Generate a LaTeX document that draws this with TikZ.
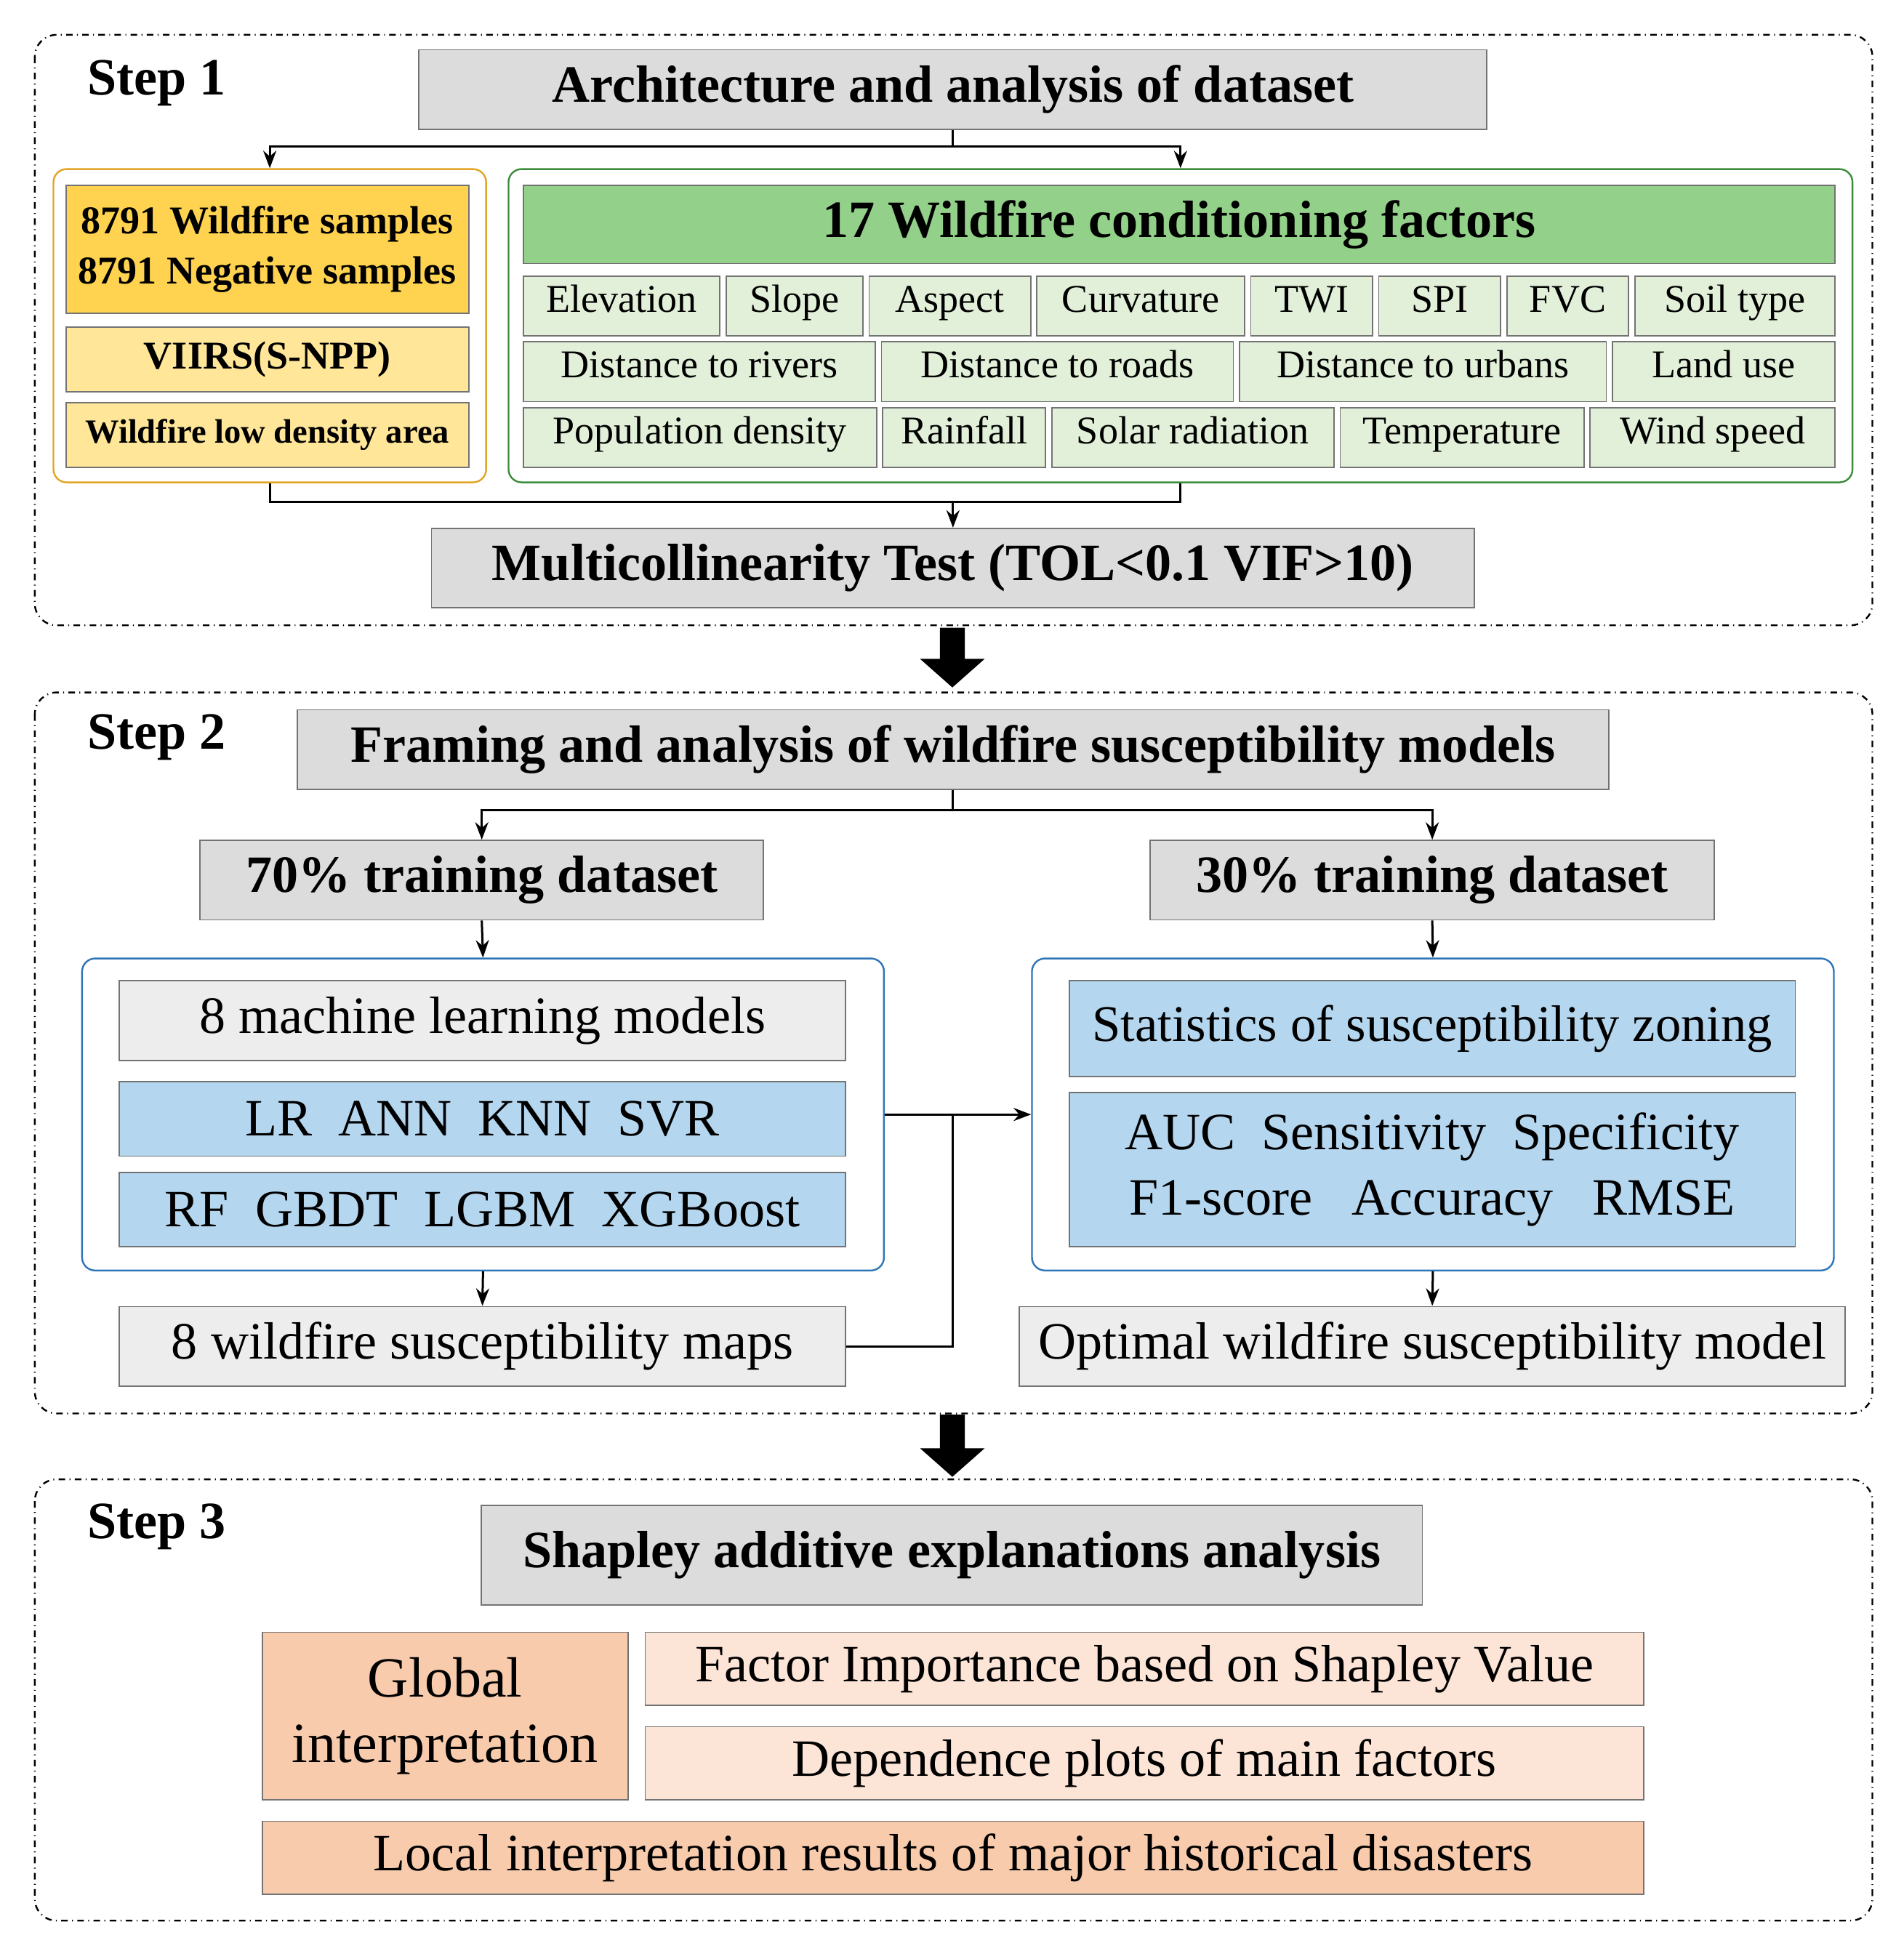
\documentclass[tikz,border=0pt]{standalone}
\usepackage{fontspec}
\setmainfont{Liberation Serif}
\usetikzlibrary{arrows.meta}
\definecolor{gry}{HTML}{DCDCDC}
\definecolor{lgry}{HTML}{EDEDED}
\definecolor{gold}{HTML}{FFD34F}
\definecolor{lyel}{HTML}{FFE699}
\definecolor{ybord}{HTML}{E0A526}
\definecolor{gbord}{HTML}{3C8C3C}
\definecolor{ghead}{HTML}{93D08A}
\definecolor{lgrn}{HTML}{E2F0D9}
\definecolor{bbord}{HTML}{2E75B6}
\definecolor{lblu}{HTML}{B4D6EE}
\definecolor{ora}{HTML}{F8CBAD}
\definecolor{lora}{HTML}{FCE4D6}
\newcommand\Bx[7]{\node[#6, minimum width={(#4-#2)*0.02cm}, minimum height={(#5-#3)*0.02cm}] (#1) at ({(#2+#4)/2},{(#3+#5)/2}) {#7};}
\tikzset{
 b/.style={draw=black!55, line width=0.6pt, inner sep=0pt, align=center},
 tb/.style={b, fill=gry, font=\fontsize{24}{27}\selectfont\bfseries},
 cell/.style={b, fill=lgrn, font=\fontsize{18}{21}\selectfont, text height=1.7ex, text depth=0.45ex},
 s2/.style={b, font=\fontsize{24}{30}\selectfont},
 frame/.style={rounded corners=6pt, line width=0.8pt},
 stepbox/.style={draw=black, dash dot, rounded corners=10pt, line width=0.8pt},
 ar/.style={-{Stealth[length=8pt,width=6pt]}, line width=1pt},
 ln/.style={line width=1pt},
 lab/.style={font=\fontsize{24}{27}\selectfont\bfseries}
}
\begin{document}
\begin{tikzpicture}[x=0.02cm,y=-0.02cm]
\useasboundingbox (0,0) rectangle (1531,1563);
% Step 1
\draw[stepbox] (28,28) rectangle (1506,503);
\node[lab] (l1) at (126,67) {Step 1};
\Bx{t1}{337}{40}{1196}{104}{tb}{Architecture and analysis of dataset}
\Bx{ly}{43}{136}{391}{388}{frame,draw=ybord}{}
\Bx{gb}{409}{136}{1490}{388}{frame,draw=gbord}{}
\Bx{y1}{53}{149}{377}{252}{b,fill=gold,font=\fontsize{18}{23}\selectfont\bfseries}{8791 Wildfire samples\\8791 Negative samples}
\Bx{y2}{53}{263}{377}{315}{b,fill=lyel,font=\fontsize{18}{21}\selectfont\bfseries}{VIIRS(S-NPP)}
\Bx{y3}{53}{324}{377}{376}{b,fill=lyel,font=\fontsize{15.5}{18}\selectfont\bfseries}{Wildfire low density area}
\Bx{gh}{421}{149}{1476}{212}{b,fill=ghead,font=\fontsize{24}{27}\selectfont\bfseries}{17 Wildfire conditioning factors}
\Bx{c1}{421}{222}{579}{270}{cell}{Elevation}
\Bx{c2}{584}{222}{694}{270}{cell}{Slope}
\Bx{c3}{699}{222}{829}{270}{cell}{Aspect}
\Bx{c4}{834}{222}{1001}{270}{cell}{Curvature}
\Bx{c5}{1006}{222}{1104}{270}{cell}{TWI}
\Bx{c6}{1109}{222}{1207}{270}{cell}{SPI}
\Bx{c7}{1212}{222}{1310}{270}{cell}{FVC}
\Bx{c8}{1315}{222}{1476}{270}{cell}{Soil type}
\Bx{d1}{421}{275}{704}{323}{cell}{Distance to rivers}
\Bx{d2}{709}{275}{992}{323}{cell}{Distance to roads}
\Bx{d3}{997}{275}{1292}{323}{cell}{Distance to urbans}
\Bx{d4}{1297}{275}{1476}{323}{cell}{Land use}
\Bx{e1}{421}{328}{705}{376}{cell}{Population density}
\Bx{e2}{710}{328}{841}{376}{cell}{Rainfall}
\Bx{e3}{846}{328}{1073}{376}{cell}{Solar radiation}
\Bx{e4}{1078}{328}{1274}{376}{cell}{Temperature}
\Bx{e5}{1279}{328}{1476}{376}{cell}{Wind speed}
\Bx{mc}{347}{425}{1186}{489}{tb}{Multicollinearity Test (TOL<0.1 VIF>10)}
\draw[ln] (t1.south) -- ++(0,13) coordinate (j1);
\draw[ar] (j1) -| (ly.north);
\draw[ar] (j1) -| (gb.north);
\draw[ln] (ly.south) -- ++(0,15) coordinate (j2) -| (gb.south);
\coordinate (j3) at (mc.north |- j2);
\draw[ar] (j3) -- (mc.north);
\fill (756,505) -- (776,505) -- (776,530) -- (792,530) -- (766,553) -- (740,530) -- (756,530) -- cycle;
% Step 2
\draw[stepbox] (28,557) rectangle (1506,1137);
\node[lab] (l2) at (126,593) {Step 2};
\Bx{t2}{239}{571}{1294}{635}{tb}{Framing and analysis of wildfire susceptibility models}
\Bx{p70}{161}{676}{614}{740}{tb}{70\% training dataset}
\Bx{p30}{925}{676}{1379}{740}{tb}{30\% training dataset}
\draw[ln] (t2.south) -- ++(0,16) coordinate (j4);
\draw[ar] (j4) -| (p70.north);
\draw[ar] (j4) -| (p30.north);
\Bx{lb}{66}{771}{711}{1022}{frame,draw=bbord}{}
\Bx{rb}{830}{771}{1475}{1022}{frame,draw=bbord}{}
\draw[ar] (p70.south) -- (lb.north);
\draw[ar] (p30.south) -- (rb.north);
\Bx{m1}{96}{789}{680}{853}{s2,fill=lgry}{8 machine learning models}
\Bx{m2}{96}{870}{680}{930}{s2,fill=lblu}{LR\ \ ANN\ \ KNN\ \ SVR}
\Bx{m3}{96}{943}{680}{1003}{s2,fill=lblu}{RF\ \ GBDT\ \ LGBM\ \ XGBoost}
\Bx{r1}{860}{789}{1444}{866}{s2,fill=lblu,font=\fontsize{23.5}{28}\selectfont}{Statistics of susceptibility zoning}
\Bx{r2}{860}{879}{1444}{1003}{s2,fill=lblu}{AUC\ \ Sensitivity\ \ Specificity\\F1-score\ \ \ Accuracy\ \ \ RMSE}
\Bx{mp}{96}{1051}{680}{1115}{s2,fill=lgry}{8 wildfire susceptibility maps}
\Bx{op}{820}{1051}{1484}{1115}{s2,fill=lgry}{Optimal wildfire susceptibility model}
\draw[ar] (lb.east) -- (rb.west);
\coordinate (j5) at (766,896.5);
\draw[ln] (mp.east) -| (j5);
\draw[ar] (lb.south) -- (mp.north);
\draw[ar] (rb.south) -- (op.north);
\fill (756,1138) -- (776,1138) -- (776,1165) -- (792,1165) -- (766,1188) -- (740,1165) -- (756,1165) -- cycle;
% Step 3
\draw[stepbox] (28,1190) rectangle (1506,1545);
\node[lab] (l3) at (126,1228) {Step 3};
\Bx{t3}{387}{1211}{1144}{1291}{tb}{Shapley additive explanations analysis}
\Bx{gi}{211}{1313}{505}{1448}{b,fill=ora,font=\fontsize{26}{30}\selectfont}{Global\\interpretation}
\Bx{f1}{519}{1313}{1322}{1372}{s2,fill=lora}{Factor Importance based on Shapley Value}
\Bx{f2}{519}{1389}{1322}{1448}{s2,fill=lora}{Dependence plots of main factors}
\Bx{f3}{211}{1465}{1322}{1524}{s2,fill=ora}{Local interpretation results of major historical disasters}
\end{tikzpicture}
\end{document}
